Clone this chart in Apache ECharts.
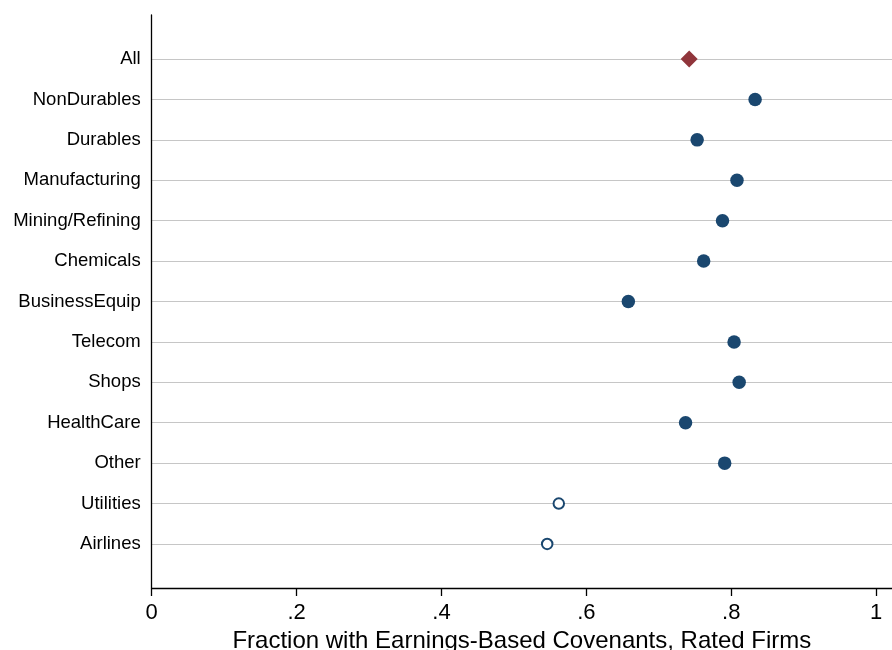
<!DOCTYPE html>
<html>
<head>
<meta charset="utf-8">
<script src="https://cdn.jsdelivr.net/npm/echarts@6/dist/echarts.min.js"></script>
<style>html,body{margin:0;padding:0;background:#fff;}#c{width:892px;height:650px;}</style>
</head>
<body>
<div id="c"></div>
<script>
const categories = ['All','NonDurables','Durables','Manufacturing','Mining/Refining','Chemicals','BusinessEquip','Telecom','Shops','HealthCare','Other','Utilities','Airlines'];
const fractions = [0.742, 0.833, 0.753, 0.808, 0.788, 0.762, 0.658, 0.804, 0.811, 0.737, 0.791, 0.562, 0.546];
const groups = ['all','filled','filled','filled','filled','filled','filled','filled','filled','filled','filled','hollow','hollow'];
const xTicks = [0, 0.2, 0.4, 0.6, 0.8, 1];
const xTitle = 'Fraction with Earnings-Based Covenants, Rated Firms';

const navy = '#1a476f', maroon = '#90353b';
function pts(g){ const out=[]; fractions.forEach((v,i)=>{ if(groups[i]===g) out.push([v,i]); }); return out; }
const idx = categories.map((c,i)=>i);

const chart = echarts.init(document.getElementById('c'), null, {renderer:'canvas'});
chart.setOption({
  animation:false,
  backgroundColor:'#fff',
  grid:{left:151.7, right:0, top:15, bottom:62, containLabel:false, outerBoundsMode:'none'},
  xAxis:{
    type:'value', min:0, max:1.022,
    axisLine:{show:true, onZero:false, lineStyle:{color:'#000', width:1.3}},
    axisTick:{show:true, inside:false, length:8, customValues:xTicks, lineStyle:{color:'#000', width:1.3}},
    axisLabel:{customValues:xTicks, margin:14, fontSize:22, color:'#000', fontFamily:'Liberation Sans, Arial, sans-serif',
      formatter:v=> v===0?'0':(v===1?'1':String(v).replace(/^0/,''))},
    splitLine:{show:false},
    name:xTitle, nameLocation:'middle', nameGap:41, nameMoveOverlap:false,
    nameTextStyle:{fontSize:24, color:'#000', fontFamily:'Liberation Sans, Arial, sans-serif'}
  },
  yAxis:{
    type:'value', inverse:true, min:-1.09, max:13.09,
    axisLine:{show:true, onZero:false, lineStyle:{color:'#000', width:1.3}},
    axisTick:{show:false, customValues:idx},
    axisLabel:{customValues:idx, margin:11, fontSize:18.5, color:'#000', fontFamily:'Liberation Sans, Arial, sans-serif',
      formatter:v=>categories[Math.round(v)]},
    splitLine:{show:true, lineStyle:{color:'#c6c6c6', width:1.2}}
  },
  series:[
    {type:'scatter', data:pts('all'), symbol:'diamond', symbolSize:17, itemStyle:{color:maroon, opacity:1}, z:3},
    {type:'scatter', data:pts('filled'), symbol:'circle', symbolSize:13.5, itemStyle:{color:navy, opacity:1}, z:3},
    {type:'scatter', data:pts('hollow'), symbol:'circle', symbolSize:10.5, itemStyle:{color:'#fff', borderColor:navy, borderWidth:2, opacity:1}, z:3}
  ]
});
</script>
</body>
</html>
